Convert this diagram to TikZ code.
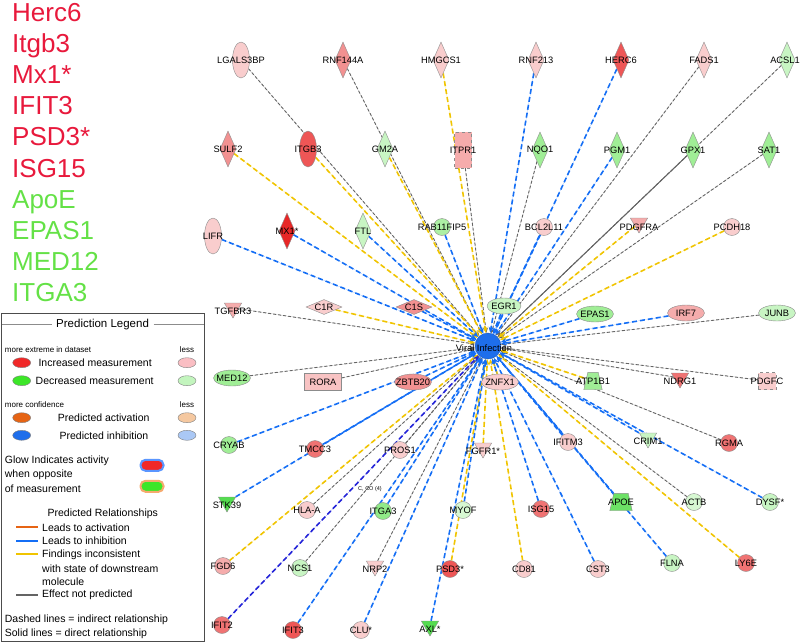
\documentclass[tikz,border=0pt]{standalone}
\usepackage{fontspec}
\setmainfont{Liberation Sans}
\usetikzlibrary{shapes.geometric,arrows.meta}
\definecolor{lpink}{RGB}{249,205,205}
\definecolor{mpink}{RGB}{242,145,145}
\definecolor{pinkb}{RGB}{245,172,172}
\definecolor{reda}{RGB}{238,86,86}
\definecolor{redb}{RGB}{240,115,115}
\definecolor{bred}{RGB}{232,38,38}
\definecolor{lgreen}{RGB}{200,245,195}
\definecolor{mgreen}{RGB}{160,238,150}
\definecolor{sgreen}{RGB}{85,220,80}
\definecolor{vlgreen}{RGB}{215,248,210}
\definecolor{hubblue}{RGB}{30,110,235}
\definecolor{eblue}{RGB}{20,110,245}
\definecolor{eyel}{RGB}{240,196,0}
\definecolor{egray}{RGB}{100,100,100}
\definecolor{edblue}{RGB}{35,35,216}
\definecolor{listred}{RGB}{232,25,60}
\definecolor{listgreen}{RGB}{100,225,70}
\definecolor{lgred}{RGB}{240,40,40}
\definecolor{lgpink}{RGB}{250,190,195}
\definecolor{lggreen}{RGB}{60,230,40}
\definecolor{lglgreen}{RGB}{195,245,190}
\definecolor{lgorange}{RGB}{230,100,20}
\definecolor{lglorange}{RGB}{245,200,160}
\definecolor{lglblue}{RGB}{170,200,245}
\definecolor{glowblue}{RGB}{90,150,255}
\definecolor{gloworange}{RGB}{245,170,110}
\pgfdeclarelayer{hubl}
\pgfdeclarelayer{edgel}
\pgfdeclarelayer{shapel}
\pgfsetlayers{hubl,edgel,shapel,main}
\begin{document}
\begin{tikzpicture}[x=1pt,y=-1pt,
  lbl/.style={font=\fontsize{9.3}{10}\selectfont, inner sep=0pt, text=black},
  gn/.style={draw=black!45, line width=0.4pt, inner sep=0pt},
  vdia/.style={gn, diamond, minimum width=16, minimum height=36},
  hdia/.style={gn, diamond, minimum width=36, minimum height=15},
  vell/.style={gn, ellipse, minimum width=17, minimum height=36},
  hell/.style={gn, ellipse, minimum width=37, minimum height=16},
  circ/.style={gn, circle, minimum size=17},
  tri/.style={gn, regular polygon, regular polygon sides=3, shape border rotate=180, minimum size=20},
  trapbox/.style={rectangle, inner sep=0pt},
  trapdraw/.style={draw=black!45, line width=0.4pt},
  boxn/.style={gn, rectangle},
  ebase/.style={line width=1.6pt, dash pattern=on 5pt off 3pt, -{Stealth[length=6pt,width=5pt]}},
  eb/.style={ebase, draw=eblue, fill=eblue},
  ey/.style={ebase, draw=eyel, fill=eyel},
  edb/.style={ebase, draw=edblue, fill=edblue},
  eg/.style={line width=0.9pt, draw=egray, fill=egray, dash pattern=on 3pt off 2pt, -{Stealth[length=5pt,width=4.5pt]}},
  egs/.style={line width=1pt, draw=egray, fill=egray, -{Stealth[length=5pt,width=4.5pt]}},
  listr/.style={font=\fontsize{26}{30}\selectfont, text=listred, inner sep=0pt, anchor=base west},
  listg/.style={font=\fontsize{26}{30}\selectfont, text=listgreen, inner sep=0pt, anchor=base west},
  lgt/.style={font=\fontsize{10.5}{12}\selectfont, inner sep=0pt, anchor=west},
  lgs/.style={font=\fontsize{8}{9}\selectfont, inner sep=0pt, anchor=west},
  lgell/.style={ellipse, draw=black!50, line width=0.4pt, minimum width=18, minimum height=10, inner sep=0pt},
  lgline/.style={line width=2pt}
]
\useasboundingbox (0,0) rectangle (800,643);

% ---------- left list ----------
\node[listr] (l1) at (12,21) {Herc6};
\node[listr] (l2) at (12,52.2) {Itgb3};
\node[listr] (l3) at (12,83.4) {Mx1*};
\node[listr] (l4) at (12,114.6) {IFIT3};
\node[listr] (l5) at (12,145.8) {PSD3*};
\node[listr] (l6) at (12,177) {ISG15};
\node[listg] (l7) at (12,208.2) {ApoE};
\node[listg] (l8) at (12,239.4) {EPAS1};
\node[listg] (l9) at (12,270.6) {MED12};
\node[listg] (l10) at (12,301.8) {ITGA3};

% ---------- hub ----------
\begin{pgfonlayer}{hubl}
\node[circle, fill=hubblue, draw=hubblue!80!black, minimum size=26, inner sep=0pt] (hub) at (488,346) {};
\end{pgfonlayer}

% ---------- nodes ----------
% row 1
\node[vell, fill=lpink, label={[lbl]center:LGALS3BP}] (LGALS3BP) at (241,60) {};
\node[vdia, fill=mpink, label={[lbl]center:RNF144A}] (RNF144A) at (343,60) {};
\node[vdia, fill=lpink, label={[lbl]center:HMGCS1}] (HMGCS1) at (441,60) {};
\node[vdia, fill=lpink, label={[lbl]center:RNF213}] (RNF213) at (536,60) {};
\node[vdia, fill=reda, label={[lbl]center:HERC6}] (HERC6) at (621,60) {};
\node[vdia, fill=lpink, label={[lbl]center:FADS1}] (FADS1) at (704,60) {};
\node[vdia, fill=lgreen, label={[lbl,xshift=-2pt]center:ACSL1}] (ACSL1) at (787,60) {};
% row 2
\node[vdia, fill=mpink, label={[lbl]center:SULF2}] (SULF2) at (228,149) {};
\node[vell, fill=reda, label={[lbl]center:ITGB3}] (ITGB3) at (308,149) {};
\node[vdia, fill=lgreen, label={[lbl]center:GM2A}] (GM2A) at (385,149) {};
\node[boxn, dashed, fill=pinkb, minimum width=17, minimum height=36, label={[lbl]center:ITPR1}] (ITPR1) at (463,150) {};
\node[vdia, fill=mgreen, label={[lbl]center:NQO1}] (NQO1) at (540,150) {};
\node[vdia, fill=mgreen, label={[lbl]center:PGM1}] (PGM1) at (617,150) {};
\node[vdia, fill=mgreen, label={[lbl]center:GPX1}] (GPX1) at (693,150) {};
\node[vdia, fill=mgreen, label={[lbl]center:SAT1}] (SAT1) at (769,150) {};
% row 3
\node[vell, fill=lpink, label={[lbl]center:LIFR}] (LIFR) at (213,236) {};
\node[vdia, fill=bred, label={[lbl]center:MX1*}] (MX1) at (287,231) {};
\node[vdia, fill=lgreen, label={[lbl]center:FTL}] (FTL) at (363,231) {};
\node[circ, fill=mgreen!70!lgreen, label={[lbl]center:RAB11FIP5}] (RAB11FIP5) at (442,227) {};
\node[circ, fill=lpink, label={[lbl]center:BCL2L11}] (BCL2L11) at (544,227) {};
\node[tri, fill=pinkb, label={[lbl,yshift=-4pt]center:PDGFRA}] (PDGFRA) at (639,223) {};
\node[circ, fill=lpink, label={[lbl]center:PCDH18}] (PCDH18) at (732,227) {};
% row 4
\node[tri, fill=pinkb, label={[lbl,yshift=-3pt]center:TGFBR3}] (TGFBR3) at (233,308) {};
\node[hdia, fill=lpink, label={[lbl]center:C1R}] (C1R) at (324,307) {};
\node[hdia, fill=mpink, label={[lbl]center:C1S}] (C1S) at (414,307) {};
\node[hell, fill=lgreen, minimum width=34, label={[lbl]center:EGR1}] (EGR1) at (504,306) {};
\node[hell, fill=mgreen, label={[lbl]center:EPAS1}] (EPAS1) at (595,314) {};
\node[hell, fill=pinkb, label={[lbl]center:IRF7}] (IRF7) at (686,313) {};
\node[hell, fill=lgreen, label={[lbl]center:JUNB}] (JUNB) at (777,313) {};
% row 5
\node[hell, fill=mgreen, label={[lbl]center:MED12}] (MED12) at (232,378) {};
\node[boxn, fill=lpink!70!pinkb, minimum width=37, minimum height=17, label={[lbl]center:RORA}] (RORA) at (323,382) {};
\node[hell, fill=mpink, label={[lbl]center:ZBTB20}] (ZBTB20) at (413,382) {};
\node[hell, fill=lpink, label={[lbl]center:ZNFX1}] (ZNFX1) at (500,382) {};
\node[trapbox, minimum width=18, minimum height=17, label={[lbl]center:ATP1B1}] (ATP1B1) at (593,381) {};
\node[tri, fill=redb, label={[lbl,yshift=-3pt]center:NDRG1}] (NDRG1) at (680,378) {};
\node[boxn, dashed, fill=lpink, minimum width=18, minimum height=17, label={[lbl]center:PDGFC}] (PDGFC) at (767,381) {};
% row 6
\node[circ, fill=mgreen, label={[lbl]center:CRYAB}] (CRYAB) at (229,445) {};
\node[circ, fill=redb, label={[lbl]center:TMCC3}] (TMCC3) at (315,449) {};
\node[circ, fill=lpink, label={[lbl]center:PROS1}] (PROS1) at (400,450) {};
\node[tri, fill=lpink, label={[lbl,yshift=-3pt]center:FGFR1*}] (FGFR1) at (483,448) {};
\node[circ, fill=lpink, label={[lbl]center:IFITM3}] (IFITM3) at (568,442) {};
\node[tri, fill=lgreen, label={[lbl,yshift=-3pt]center:CRIM1}] (CRIM1) at (648,438) {};
\node[circ, fill=redb, label={[lbl]center:RGMA}] (RGMA) at (729,443) {};
% row 7
\node[tri, fill=sgreen, label={[lbl,yshift=-3pt]center:STK39}] (STK39) at (227,502) {};
\node[circ, fill=lpink, label={[lbl]center:HLA-A}] (HLAA) at (307,510) {};
\node[circ, fill=mgreen!80!sgreen, label={[lbl]center:ITGA3}] (ITGA3) at (383,511) {};
\node[circ, fill=vlgreen, label={[lbl]center:MYOF}] (MYOF) at (463,510) {};
\node[circ, fill=redb, label={[lbl]center:ISG15}] (ISG15) at (541,509) {};
\node[trapbox, minimum width=22, minimum height=17, label={[lbl]center:APOE}] (APOE) at (621,502) {};
\node[circ, fill=vlgreen, label={[lbl]center:ACTB}] (ACTB) at (694,502) {};
\node[circ, fill=lgreen, label={[lbl]center:DYSF*}] (DYSF) at (770,502) {};
% row 8
\node[circ, fill=pinkb, label={[lbl]center:FGD6}] (FGD6) at (223,566) {};
\node[circ, fill=lgreen, label={[lbl]center:NCS1}] (NCS1) at (300,568) {};
\node[tri, fill=lpink, label={[lbl,yshift=-3pt]center:NRP2}] (NRP2) at (375,566) {};
\node[circ, fill=reda, label={[lbl]center:PSD3*}] (PSD3) at (450,569) {};
\node[circ, fill=lpink, label={[lbl]center:CD81}] (CD81) at (524,569) {};
\node[circ, fill=lpink, label={[lbl]center:CST3}] (CST3) at (598,569) {};
\node[circ, fill=lgreen, label={[lbl]center:FLNA}] (FLNA) at (672,563) {};
\node[circ, fill=redb, label={[lbl]center:LY6E}] (LY6E) at (746,563) {};
% row 9
\node[circ, fill=redb, label={[lbl]center:IFIT2}] (IFIT2) at (222,625) {};
\node[circ, fill=reda, label={[lbl]center:IFIT3}] (IFIT3) at (293,630) {};
\node[circ, fill=lpink, label={[lbl]center:CLU*}] (CLU) at (361,630) {};
\node[tri, fill=sgreen, label={[lbl,yshift=-3pt]center:AXL*}] (AXL) at (430,626) {};

\node[font=\fontsize{5.5}{6}\selectfont, inner sep=0pt] (cco) at (370,489) {C, CO (4)};
\node[lbl] (hublbl) at (484,348) {Viral Infection};

% ---------- trapezium shapes (transporters) ----------
\begin{pgfonlayer}{shapel}
\draw[trapdraw, fill=mgreen] (ATP1B1.south west) -- (ATP1B1.south east) -- ([xshift=-4pt]ATP1B1.north east) -- ([xshift=4pt]ATP1B1.north west) -- cycle;
\draw[trapdraw, fill=sgreen!70!mgreen] (APOE.south west) -- (APOE.south east) -- ([xshift=-4pt]APOE.north east) -- ([xshift=4pt]APOE.north west) -- cycle;
\end{pgfonlayer}

% ---------- edges ----------
\begin{pgfonlayer}{edgel}
\foreach \n in {LGALS3BP,RNF144A,FADS1,ACSL1,ITPR1,NQO1,SAT1,TGFBR3,JUNB,MED12,RORA,NDRG1,PDGFC,PROS1,RGMA,HLAA,ACTB,NCS1,NRP2}
  \draw[eg] (\n) -- (hub);
\draw[egs] (GPX1) -- (hub);
\foreach \n in {HMGCS1,SULF2,ITGB3,GM2A,PDGFRA,PCDH18,C1R,ZNFX1,ATP1B1,FGFR1,FGD6,PSD3,CD81,LY6E}
  \draw[ey] (\n) -- (hub);
\foreach \n in {RNF213,HERC6,PGM1,LIFR,MX1,FTL,RAB11FIP5,BCL2L11,C1S,EGR1,EPAS1,IRF7,ZBTB20,CRYAB,TMCC3,IFITM3,CRIM1,STK39,ITGA3,MYOF,ISG15,APOE,DYSF,CST3,FLNA,IFIT3,CLU,AXL}
  \draw[eb] (\n) -- (hub);
\draw[edb] (IFIT2) -- (hub);
\end{pgfonlayer}

% ---------- legend ----------
\node[draw=black!70, line width=0.8pt, minimum width=203, minimum height=328, inner sep=0pt, anchor=north west] (legbox) at (1,313) {};
\node[font=\fontsize{11.5}{13}\selectfont, inner sep=0pt] (legtitle) at (102.6,324.3) {Prediction Legend};
\coordinate (tl1) at (1.5,324.3); \coordinate (tl2) at (52,324.3);
\coordinate (tr1) at (153.5,324.3); \coordinate (tr2) at (203.5,324.3);
\draw[black!45, line width=1.2pt] (tl1) -- (tl2);
\draw[black!45, line width=1.2pt] (tr1) -- (tr2);

\node[lgs] (me) at (4.7,350) {more extreme in dataset};
\node[lgs, anchor=center] (less1) at (187,350) {less};
\node[lgell, fill=lgred] (e1) at (21.7,362.7) {};
\node[lgt] (t1) at (38.3,362.7) {Increased measurement};
\node[lgell, fill=lgpink] (e2) at (187,362.7) {};
\node[lgell, fill=lggreen] (e3) at (21.7,380.7) {};
\node[lgt] (t2) at (35.5,380.7) {Decreased measurement};
\node[lgell, fill=lglgreen] (e4) at (187,380.7) {};

\node[lgs] (mc) at (4.7,404.3) {more confidence};
\node[lgs, anchor=center] (less2) at (187,404.3) {less};
\node[lgell, fill=lgorange] (e5) at (21.7,417.7) {};
\node[lgt, anchor=center] (t3) at (103.7,417.7) {Predicted activation};
\node[lgell, fill=lglorange] (e6) at (187,417.7) {};
\node[lgell, fill=hubblue] (e7) at (21.7,435.3) {};
\node[lgt, anchor=center] (t4) at (104,435.3) {Predicted inhibition};
\node[lgell, fill=lglblue] (e8) at (187,435.3) {};

\node[lgt] (g1) at (4.7,460.7) {Glow Indicates activity};
\node[lgt] (g2) at (4.7,474.3) {when opposite};
\node[lgt] (g3) at (4.7,488.7) {of measurement};
\node[rectangle, rounded corners=5pt, draw=glowblue, line width=2pt, fill=lgred, minimum width=23, minimum height=11, inner sep=0pt] (gr) at (152,465.3) {};
\node[rectangle, rounded corners=5pt, draw=gloworange, line width=2pt, fill=lggreen, minimum width=23, minimum height=11, inner sep=0pt] (gg) at (152,486.3) {};

\node[lgt, anchor=center] (pr) at (102.8,513.3) {Predicted Relationships};
\coordinate (ra1) at (16,527.3); \coordinate (ra2) at (38,527.3);
\coordinate (rb1) at (16,540.7); \coordinate (rb2) at (38,540.7);
\coordinate (rc1) at (16,554.3); \coordinate (rc2) at (38,554.3);
\coordinate (rd1) at (16,595); \coordinate (rd2) at (38,595);
\draw[lgline, draw=lgorange] (ra1) -- (ra2);
\draw[lgline, draw=eblue] (rb1) -- (rb2);
\draw[lgline, draw=eyel] (rc1) -- (rc2);
\draw[lgline, draw=egray] (rd1) -- (rd2);
\node[lgt] (r1) at (42,527.3) {Leads to activation};
\node[lgt] (r2) at (42,540.7) {Leads to inhibition};
\node[lgt] (r3) at (42,554.3) {Findings inconsistent};
\node[lgt] (r4) at (42,568.3) {with state of downstream};
\node[lgt] (r5) at (42,581.7) {molecule};
\node[lgt] (r6) at (42,595) {Effect not predicted};
\node[lgt] (dl) at (4.7,620) {Dashed lines = indirect relationship};
\node[lgt] (sl) at (4.7,633.7) {Solid lines = direct relationship};
\end{tikzpicture}
\end{document}
